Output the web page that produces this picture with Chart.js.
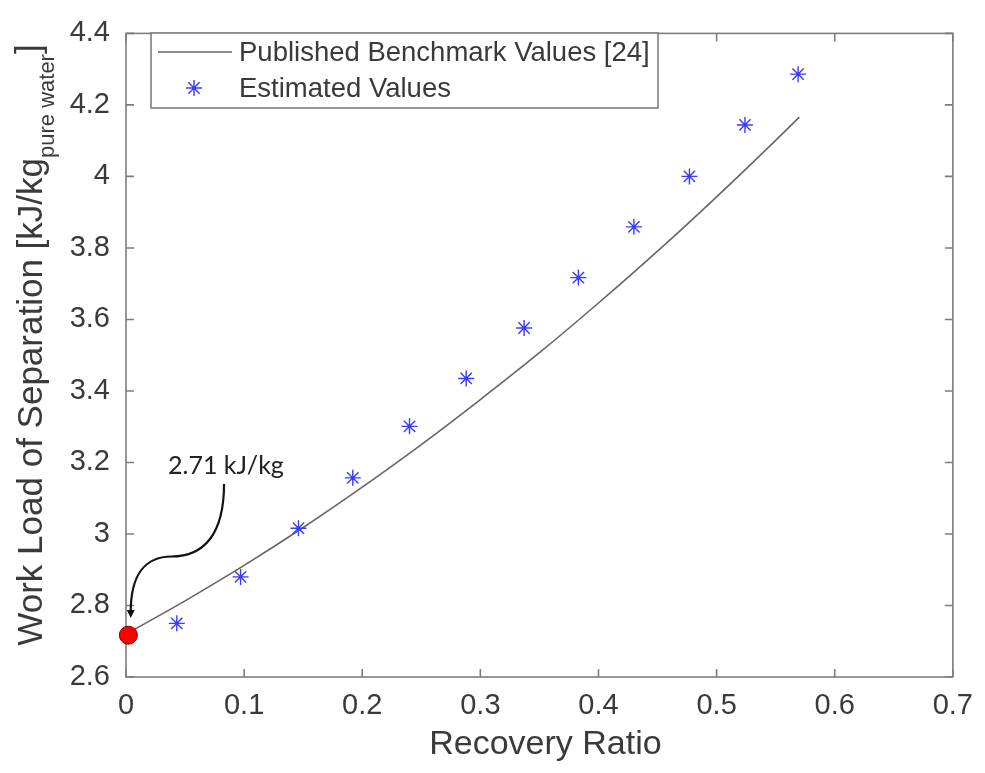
<!DOCTYPE html>
<html lang="en">
<head>
  <meta charset="UTF-8" />
  <title>Work Load of Separation vs Recovery Ratio</title>
  <script src="https://cdn.jsdelivr.net/npm/chart.js"></script>
  <style>
    html, body { margin: 0; padding: 0; background: #fff; }
    #wrap { width: 985px; height: 773px; }
  </style>
</head>
<body>
  <div id="wrap"><canvas id="workChart" width="985" height="773"></canvas></div>

  <script>
    // Published benchmark curve [24]
    const benchX = [0, 0.05, 0.1, 0.15, 0.2, 0.25, 0.3, 0.35, 0.4, 0.45, 0.5, 0.55, 0.57];
    const benchY = [2.72, 2.813, 2.912, 3.018, 3.131, 3.25, 3.376, 3.507, 3.646, 3.791, 3.943, 4.101, 4.166];

    // Estimated values (asterisks)
    const estX = [0.043, 0.097, 0.146, 0.192, 0.240, 0.288, 0.337, 0.383, 0.430, 0.477, 0.524, 0.569];
    const estY = [2.75, 2.88, 3.016, 3.157, 3.301, 3.435, 3.576, 3.717, 3.859, 4.0, 4.144, 4.286];

    // Highlighted start point
    const startX = [0.002];
    const startY = [2.717];

    const legendLabels = ['Published Benchmark Values [24]', 'Estimated Values'];
    const noteText = '2.71 kJ/kg';
    const xTitle = 'Recovery Ratio';

    const FONT = '"Liberation Sans", Arial, sans-serif';
    const AXIS = '#7d7d7d';
    const TEXT = '#3a3a3a';

    function pts(xs, ys) {
      return xs.map((x, i) => ({ x: x, y: ys[i] }));
    }

    function fmt(v) {
      return parseFloat(Number(v).toFixed(1)).toString();
    }

    // MATLAB-style box with inward ticks
    const framePlugin = {
      id: 'frame',
      beforeDatasetsDraw(chart) {
        const { ctx, chartArea: a, scales } = chart;
        ctx.save();
        ctx.strokeStyle = AXIS;
        ctx.lineWidth = 1.6;
        ctx.strokeRect(a.left, a.top, a.right - a.left, a.bottom - a.top);
        ctx.beginPath();
        scales.x.ticks.forEach(t => {
          const px = scales.x.getPixelForValue(t.value);
          ctx.moveTo(px, a.bottom); ctx.lineTo(px, a.bottom - 8);
          ctx.moveTo(px, a.top); ctx.lineTo(px, a.top + 8);
        });
        scales.y.ticks.forEach(t => {
          const py = scales.y.getPixelForValue(t.value);
          ctx.moveTo(a.left, py); ctx.lineTo(a.left + 8, py);
          ctx.moveTo(a.right, py); ctx.lineTo(a.right - 8, py);
        });
        ctx.stroke();
        ctx.restore();
      },
      afterDatasetsDraw(chart) {
        const { ctx, scales } = chart;
        const xs = scales.x, ys = scales.y;

        // legend
        ctx.save();
        ctx.fillStyle = '#fff';
        ctx.fillRect(151, 33, 507, 75);
        ctx.strokeStyle = AXIS;
        ctx.lineWidth = 1.6;
        ctx.strokeRect(151, 33, 507, 75);
        ctx.strokeStyle = '#666';
        ctx.lineWidth = 1.5;
        ctx.beginPath();
        ctx.moveTo(158, 52); ctx.lineTo(232, 52);
        ctx.stroke();
        ctx.strokeStyle = '#3a3aff';
        ctx.lineWidth = 1.4;
        Chart.helpers.drawPoint(ctx, { pointStyle: 'star', radius: 8, rotation: 0, borderWidth: 1.4 }, 194, 88);
        ctx.fillStyle = TEXT;
        ctx.font = '27.5px ' + FONT;
        ctx.textBaseline = 'middle';
        ctx.textAlign = 'left';
        ctx.fillText(legendLabels[0], 239, 53);
        ctx.fillText(legendLabels[1], 239, 89);
        ctx.restore();

        // annotation with curved arrow to the start point
        const P = (x, y) => [xs.getPixelForValue(x), ys.getPixelForValue(y)];
        const [tx, ty] = P(0.0846, 3.19);
        const [sx, sy] = P(0.083, 3.14);
        const [mx, my] = P(0.0385, 2.937);
        const [ex, ey] = P(startX[0] + 0.002, 2.765);
        ctx.save();
        ctx.fillStyle = '#222';
        ctx.font = '25px Lato, "Open Sans", sans-serif';
        ctx.textAlign = 'center';
        ctx.textBaseline = 'middle';
        ctx.fillText(noteText, tx, ty);
        ctx.strokeStyle = '#111';
        ctx.lineWidth = 2.2;
        ctx.beginPath();
        ctx.moveTo(sx, sy);
        ctx.bezierCurveTo(sx, sy + 50, sx - 20, my, mx, my);
        ctx.bezierCurveTo(mx - 27, my, ex, ey - 42, ex, ey - 6);
        ctx.stroke();
        ctx.beginPath();
        ctx.moveTo(ex - 4, ey - 8);
        ctx.lineTo(ex + 4, ey - 8);
        ctx.lineTo(ex, ey);
        ctx.closePath();
        ctx.fillStyle = '#111';
        ctx.fill();
        ctx.restore();
      },
      afterDraw(chart) {
        const { ctx, chartArea: a } = chart;
        ctx.save();
        ctx.fillStyle = TEXT;

        // x title
        ctx.font = '34px ' + FONT;
        ctx.textAlign = 'center';
        ctx.textBaseline = 'middle';
        ctx.fillText(xTitle, (a.left + a.right) / 2 + 6, 745);

        // y title with subscript
        const main1 = 'Work Load of Separation [kJ/kg';
        const sub = 'pure water';
        const main2 = ']';
        const fMain = '35px ' + FONT, fSub = '22px ' + FONT;
        ctx.font = fMain;
        const w1 = ctx.measureText(main1).width;
        const w3 = ctx.measureText(main2).width;
        ctx.font = fSub;
        const w2 = ctx.measureText(sub).width;
        const total = w1 + w2 + w3;
        ctx.translate(42, 345);
        ctx.rotate(-Math.PI / 2);
        ctx.textAlign = 'left';
        ctx.textBaseline = 'alphabetic';
        let cx = -total / 2;
        ctx.font = fMain;
        ctx.fillText(main1, cx, 0);
        cx += w1;
        ctx.font = fSub;
        ctx.fillText(sub, cx, 12);
        cx += w2;
        ctx.font = fMain;
        ctx.fillText(main2, cx, -2);
        ctx.restore();
      }
    };

    new Chart(document.getElementById('workChart'), {
      type: 'scatter',
      data: {
        datasets: [
          {
            label: legendLabels[0],
            data: pts(benchX, benchY),
            showLine: true,
            borderColor: '#666666',
            borderWidth: 1.6,
            pointRadius: 0,
            cubicInterpolationMode: 'monotone',
            order: 3
          },
          {
            label: legendLabels[1],
            data: pts(estX, estY),
            showLine: false,
            pointStyle: 'star',
            pointRadius: 8,
            borderColor: '#3a3aff',
            backgroundColor: '#3a3aff',
            pointBorderWidth: 1.4,
            order: 2
          },
          {
            label: 'start',
            data: pts(startX, startY),
            showLine: false,
            pointStyle: 'circle',
            pointRadius: 9,
            backgroundColor: '#ff0000',
            borderColor: '#7a0000',
            pointBorderWidth: 1,
            clip: false,
            order: 1
          }
        ]
      },
      options: {
        responsive: false,
        animation: false,
        events: [],
        layout: { padding: { top: 15, right: 22, left: 0, bottom: 0 } },
        plugins: {
          legend: { display: false },
          tooltip: { enabled: false }
        },
        scales: {
          x: {
            type: 'linear',
            min: 0,
            max: 0.7,
            grid: { display: false, drawTicks: false },
            border: { display: false },
            ticks: {
              stepSize: 0.1,
              padding: 12,
              color: TEXT,
              font: { family: FONT, size: 29 },
              maxRotation: 0,
              callback: v => fmt(v)
            },
            afterFit: s => { s.height = 96; }
          },
          y: {
            type: 'linear',
            min: 2.6,
            max: 4.4,
            grid: { display: false, drawTicks: false },
            border: { display: false },
            ticks: {
              stepSize: 0.2,
              padding: 16,
              color: TEXT,
              font: { family: FONT, size: 29 },
              callback: v => fmt(v)
            },
            afterFit: s => { s.width = 126; }
          }
        }
      },
      plugins: [framePlugin]
    });
  </script>
</body>
</html>
